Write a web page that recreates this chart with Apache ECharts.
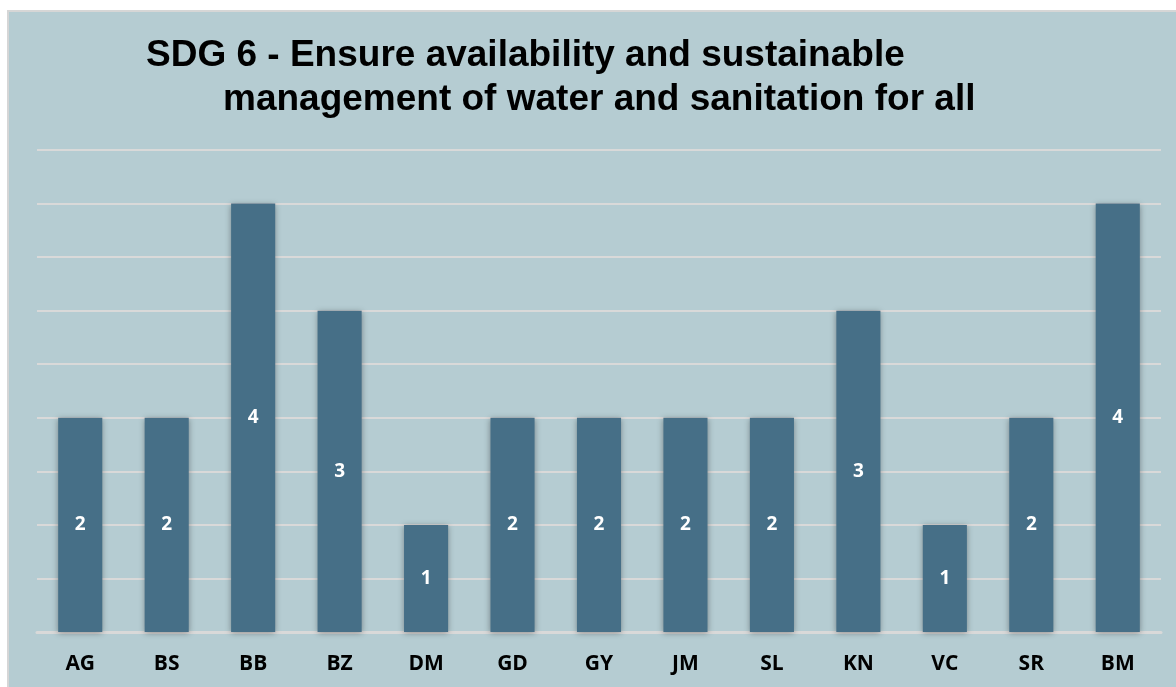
<!DOCTYPE html>
<html>
<head>
<meta charset="utf-8">
<script src="https://cdn.jsdelivr.net/npm/echarts@6/dist/echarts.min.js"></script>
<style>
  body { margin: 0; background: #ffffff; }
  #panel {
    position: absolute; left: 7px; top: 10px; right: 0; bottom: 0;
    background: #b5ccd2;
    border-top: 2px solid #d6d6d6;
    border-left: 2px solid #d6d6d6;
  }
  #chart { position: absolute; left: 0; top: 0; width: 1176px; height: 687px; }
</style>
</head>
<body>
<div id="panel"></div>
<div id="chart"></div>
<script>
// 国家代码
const categories = ['AG', 'BS', 'BB', 'BZ', 'DM', 'GD', 'GY', 'JM', 'SL', 'KN', 'VC', 'SR', 'BM']
// 每个国家的数值
const values = [2, 2, 4, 3, 1, 2, 2, 2, 2, 3, 1, 2, 4]
const titleLines = [
  'SDG 6 - Ensure availability and sustainable',
  'management of water and sanitation for all',
]

const titleStyle = { fontFamily: 'Liberation Sans', fontWeight: 'bold', fontSize: 37, color: '#000' }

const myChart = echarts.init(document.getElementById('chart'))
const option = {
  backgroundColor: 'transparent',
  title: [
    { text: titleLines[0], left: 141, top: 32, textStyle: titleStyle },
    { text: titleLines[1], left: 218, top: 76, textStyle: titleStyle },
  ],
  grid: {
    left: 37,
    right: 15,
    top: 150,
    bottom: 55,
  },
  xAxis: {
    type: 'category',
    data: categories,
    axisTick: { show: false },
    axisLine: { lineStyle: { color: '#d9d9d9', width: 3 } },
    axisLabel: {
      margin: 22,
      fontFamily: 'Open Sans',
      fontWeight: 'bold',
      fontSize: 21,
      color: '#000',
    },
  },
  yAxis: {
    type: 'value',
    min: 0,
    max: 4.5,
    interval: 0.5,
    axisLabel: { show: false },
    axisLine: { show: false },
    axisTick: { show: false },
    splitLine: { lineStyle: { color: '#d9d9d9', width: 2 } },
  },
  series: [
    {
      type: 'bar',
      data: values,
      barWidth: '51%',
      itemStyle: {
        color: '#466f87',
        shadowBlur: 6,
        shadowColor: 'rgba(0,0,0,0.35)',
        shadowOffsetY: 1,
      },
      label: {
        show: true,
        position: 'inside',
        fontFamily: 'Open Sans',
        fontWeight: 'bold',
        fontSize: 19,
        color: '#ffffff',
      },
    },
  ],
}
myChart.setOption(option)
</script>
</body>
</html>
